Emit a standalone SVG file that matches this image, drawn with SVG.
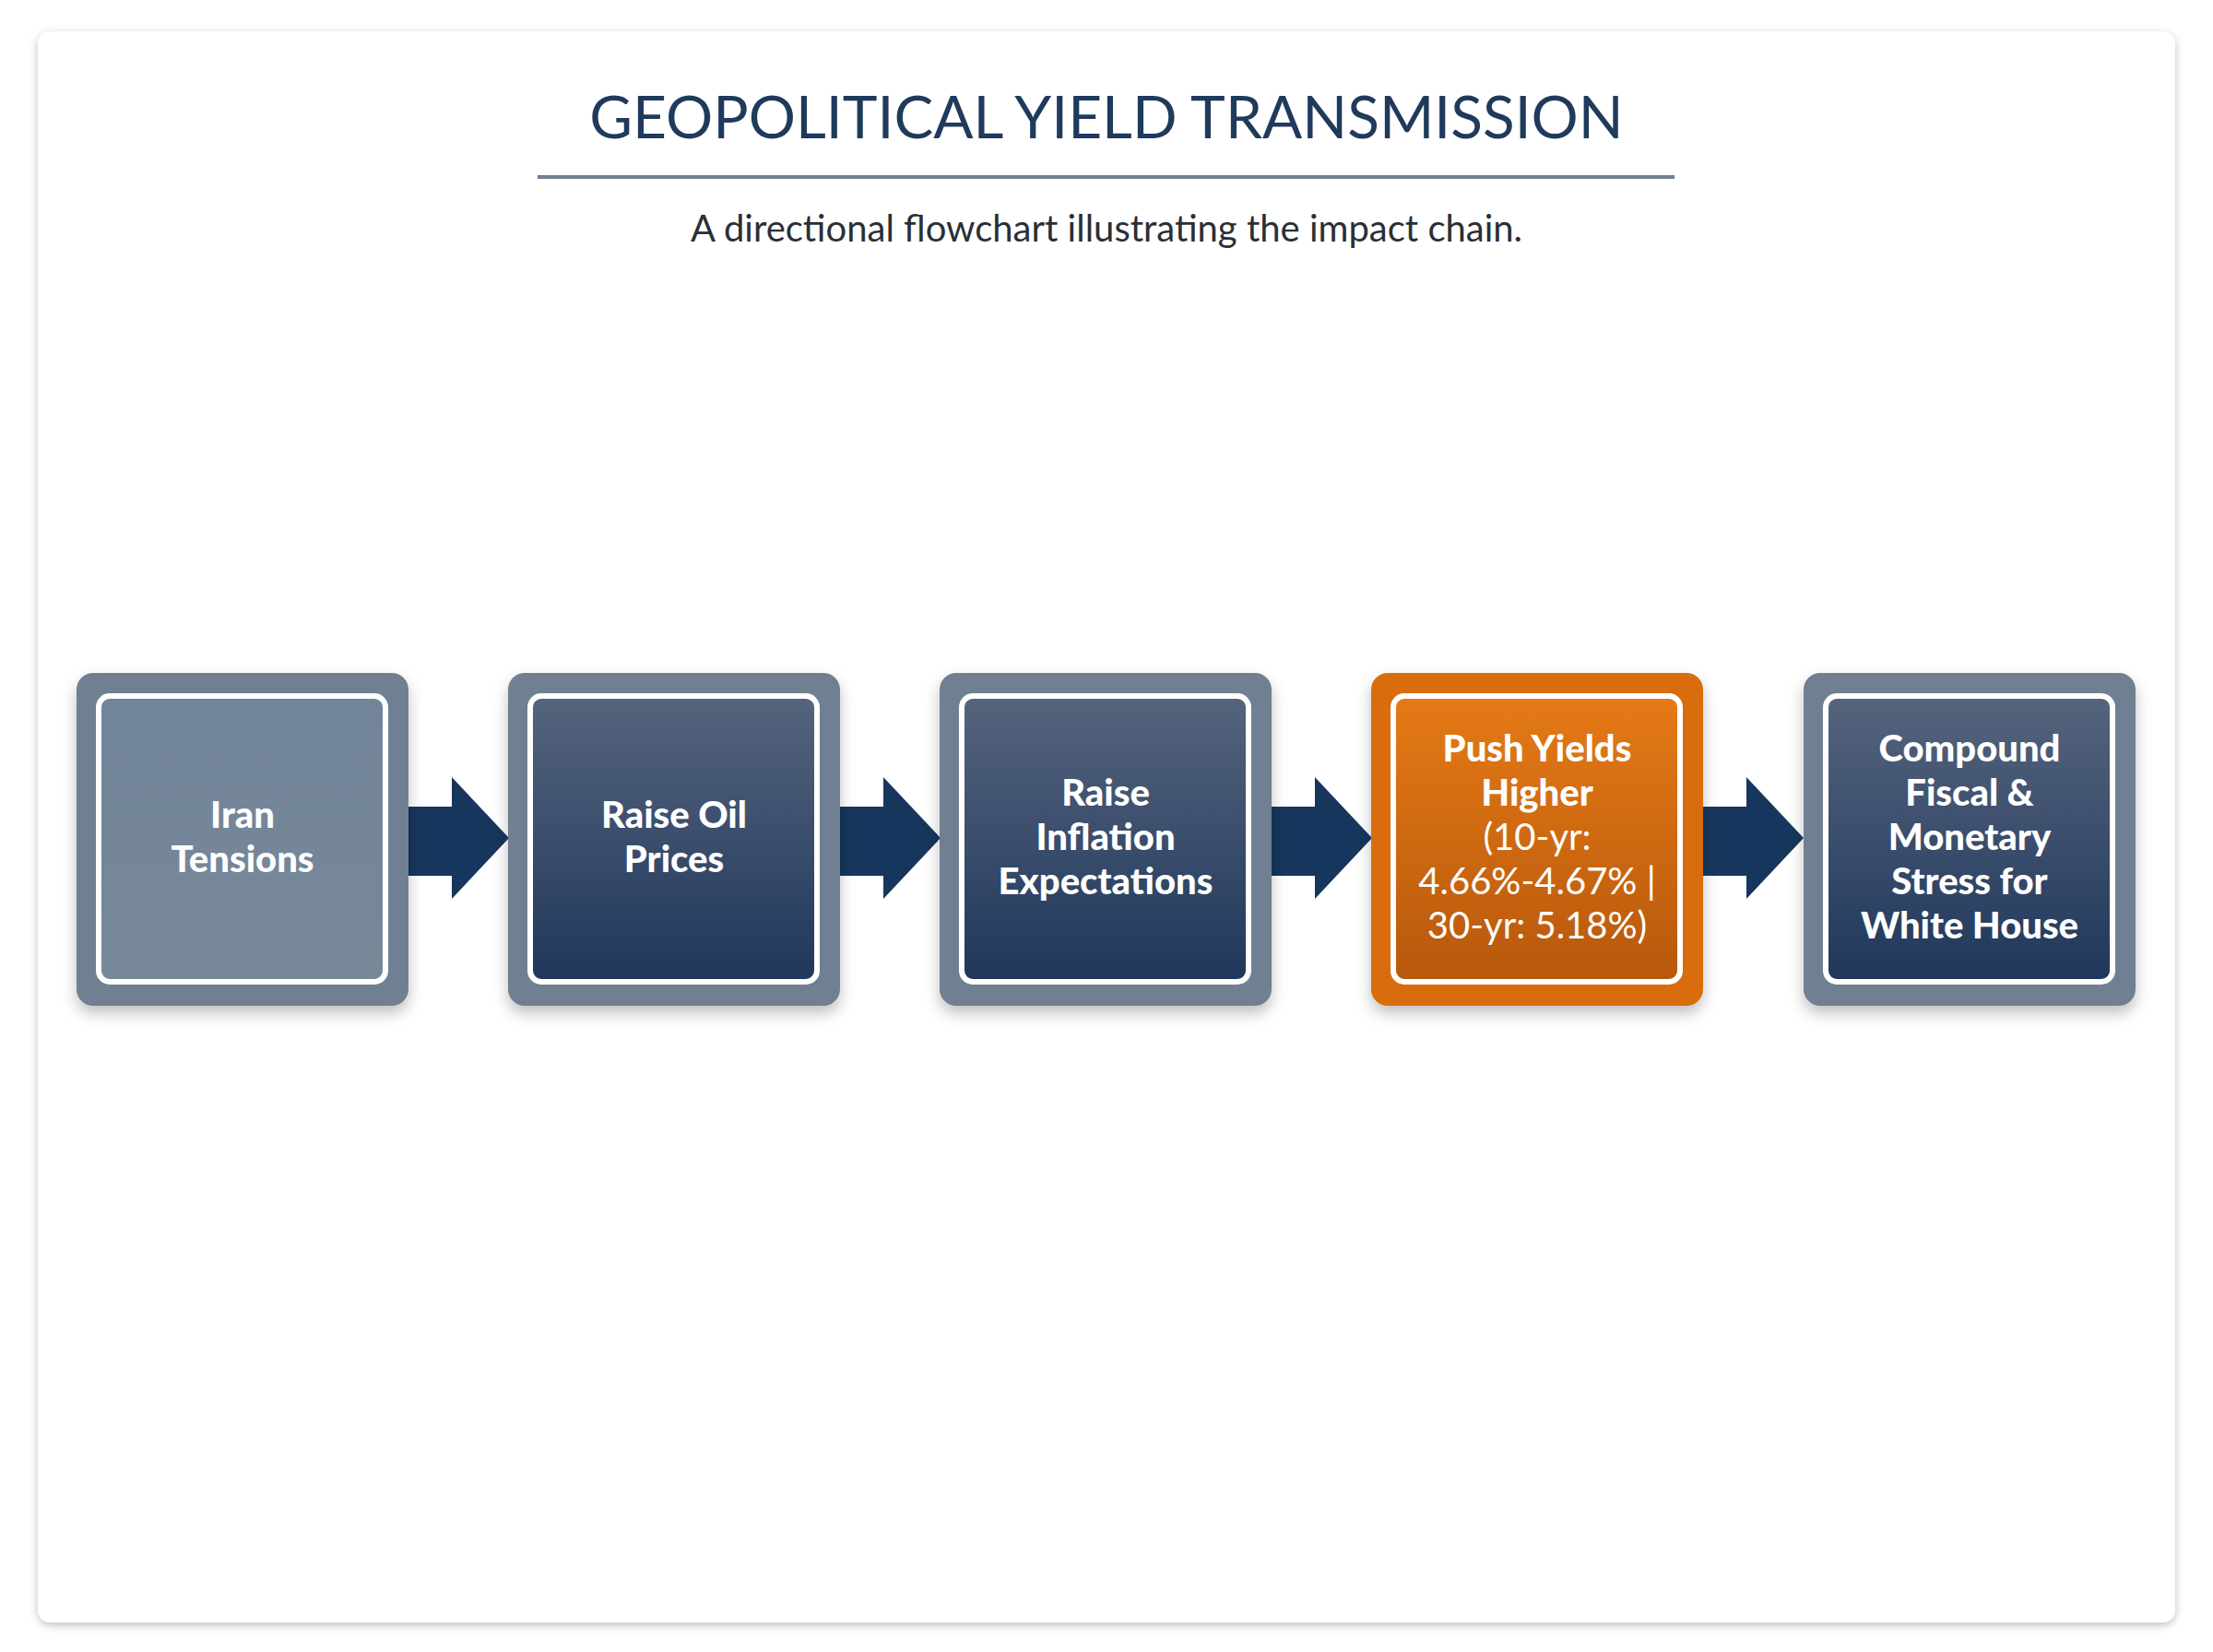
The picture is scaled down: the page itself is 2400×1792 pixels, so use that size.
<svg xmlns="http://www.w3.org/2000/svg" width="2400" height="1792" viewBox="0 0 2400 1792">
<defs>
<linearGradient id="gNavy" x1="0" y1="0" x2="0" y2="1"><stop offset="0" stop-color="#56647d"/><stop offset="1" stop-color="#1f375b"/></linearGradient>
<linearGradient id="gSlate" x1="0" y1="0" x2="0" y2="1"><stop offset="0" stop-color="#72849a"/><stop offset="1" stop-color="#778898"/></linearGradient>
<linearGradient id="gOrange" x1="0" y1="0" x2="0" y2="1"><stop offset="0" stop-color="#e57a16"/><stop offset="1" stop-color="#b7580c"/></linearGradient>
<filter id="sh" x="-10%" y="-10%" width="120%" height="125%"><feDropShadow dx="0" dy="8" stdDeviation="8" flood-color="#000" flood-opacity="0.25"/></filter>
<filter id="csh" x="-5%" y="-5%" width="110%" height="110%"><feDropShadow dx="0" dy="3" stdDeviation="5" flood-color="#000" flood-opacity="0.25"/></filter>
<style>
.outer{fill:#6f8092;filter:url(#sh)}
.outerO{fill:#d96c10;filter:url(#sh)}
.inner{stroke:#fff;stroke-width:6}
.t{font-family:Lato,"Open Sans","Liberation Sans",sans-serif;font-weight:900;font-size:40px;fill:#fff;text-anchor:middle}
.r{font-weight:400}
.arrow{fill:#17365d}
</style>
</defs>
<rect x="0" y="0" width="2400" height="1792" fill="#fff"/>
<rect x="41" y="34" width="2318" height="1726" rx="14" fill="#fff" filter="url(#csh)"/>
<text x="1200" y="150" font-family="Lato,'Open Sans','Liberation Sans',sans-serif" font-size="64" fill="#1f3a5c" text-anchor="middle">GEOPOLITICAL YIELD TRANSMISSION</text>
<rect x="583" y="190" width="1233" height="4" fill="#6f8092"/>
<text x="1200" y="262" font-family="Lato,'Open Sans','Liberation Sans',sans-serif" font-size="40" fill="#2a2f36" text-anchor="middle">A directional flowchart illustrating the impact chain.</text>
<g id="connectors">
<polygon class="arrow" points="414,875 490,875 490,843 552,909 490,975 490,950 414,950"/>
<polygon class="arrow" points="882,875 958,875 958,843 1020,909 958,975 958,950 882,950"/>
<polygon class="arrow" points="1350,875 1426,875 1426,843 1488,909 1426,975 1426,950 1350,950"/>
<polygon class="arrow" points="1818,875 1894,875 1894,843 1956,909 1894,975 1894,950 1818,950"/>
</g>
<g id="n1">
<rect class="outer" x="83" y="730" width="360" height="361" rx="18"/>
<rect class="inner" x="107" y="755" width="311" height="310" rx="12" fill="url(#gSlate)"/>
<text class="t" x="263" y="898">Iran</text><text class="t" x="263" y="946">Tensions</text>
</g>
<g id="n2">
<rect class="outer" x="551" y="730" width="360" height="361" rx="18"/>
<rect class="inner" x="575" y="755" width="311" height="310" rx="12" fill="url(#gNavy)"/>
<text class="t" x="731" y="898">Raise Oil</text><text class="t" x="731" y="946">Prices</text>
</g>
<g id="n3">
<rect class="outer" x="1019" y="730" width="360" height="361" rx="18"/>
<rect class="inner" x="1043" y="755" width="311" height="310" rx="12" fill="url(#gNavy)"/>
<text class="t" x="1199" y="874">Raise</text><text class="t" x="1199" y="922">Inflation</text><text class="t" x="1199" y="970">Expectations</text>
</g>
<g id="n4">
<rect class="outerO" x="1487" y="730" width="360" height="361" rx="18"/>
<rect class="inner" x="1511" y="755" width="311" height="310" rx="12" fill="url(#gOrange)"/>
<text class="t" x="1667" y="826">Push Yields</text><text class="t" x="1667" y="874">Higher</text>
<text class="t r" x="1667" y="922">(10-yr:</text><text class="t r" x="1667" y="970">4.66%-4.67% |</text><text class="t r" x="1667" y="1018">30-yr: 5.18%)</text>
</g>
<g id="n5">
<rect class="outer" x="1956" y="730" width="360" height="361" rx="18"/>
<rect class="inner" x="1980" y="755" width="311" height="310" rx="12" fill="url(#gNavy)"/>
<text class="t" x="2136" y="826">Compound</text><text class="t" x="2136" y="874">Fiscal &amp;</text><text class="t" x="2136" y="922">Monetary</text><text class="t" x="2136" y="970">Stress for</text><text class="t" x="2136" y="1018">White House</text>
</g>
</svg>
